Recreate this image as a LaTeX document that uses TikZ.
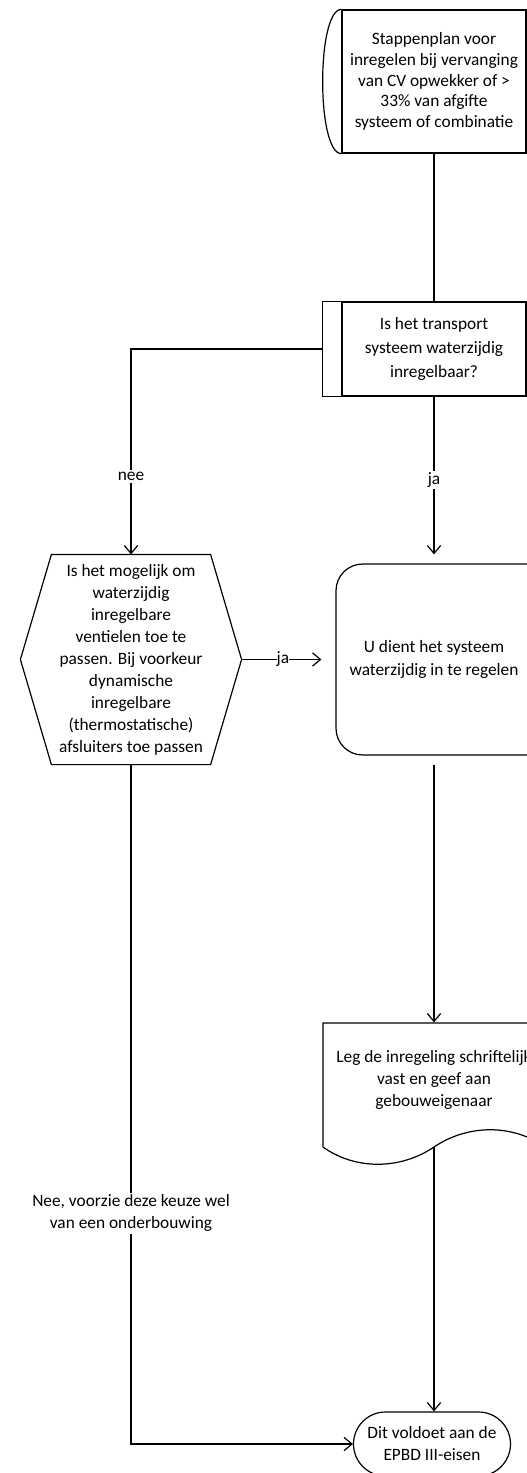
\documentclass[tikz,border=0pt]{standalone}
\usepackage{fontspec}
\setmainfont{Carlito}
\usetikzlibrary{positioning,arrows.meta,shapes.misc}

\begin{document}
\begin{tikzpicture}[
        x=0.75pt, y=-0.75pt,
        font=\fontsize{13}{16.5}\selectfont,
        line width=0.9pt,
        box/.style={draw, align=center, inner sep=0pt},
        plain/.style={align=center, inner sep=0pt},
        flow/.style={-{Straight Barb[length=6pt,width=10pt]}},
        lbl/.style={fill=white, align=center, inner sep=1.5pt}
    ]
    \clip (0,0) rectangle (527,1473);

    % --- Start: stappenplan ---
    \node[box, minimum width=138pt, minimum height=107.25pt, font=\fontsize{13}{15.5}\selectfont] (start) at (434,81.5)
        {Stappenplan voor\\inregelen bij vervanging\\van CV opwekker of >\\33\% van afgifte\\systeem of combinatie};
    \draw (start.north west) .. controls ([xshift=-18.75pt]start.north west) and ([xshift=-18.75pt]start.south west) .. (start.south west);

    % --- Predefined process: transport systeem ---
    \node[box, minimum width=138pt, minimum height=70.5pt, font=\fontsize{13}{18}\selectfont] (proc) at (434,349)
        {Is het transport\\systeem waterzijdig\\inregelbaar?};
    \draw (proc.north west) rectangle ([xshift=-14.25pt]proc.south west);

    % --- Hexagon: ventielen ---
    \node[plain, minimum width=118.5pt, minimum height=156.75pt] (hex) at (131,659.5)
        {Is het mogelijk om\\waterzijdig\\inregelbare\\ventielen toe te\\passen. Bij voorkeur\\dynamische\\inregelbare\\(thermostatische)\\afsluiters toe passen};
    \draw (hex.north west) -- (hex.north east) -- ([xshift=23.25pt]hex.east) -- (hex.south east)
        -- (hex.south west) -- ([xshift=-23.25pt]hex.west) -- cycle;

    % --- Rounded box: inregelen ---
    \node[box, rounded corners=20pt, minimum width=168pt, minimum height=143.25pt] (regel) at (448,659.5) {};
    \node[plain, font=\fontsize{13}{17.25}\selectfont] (regeltekst) at (434,659.5)
        {U dient het systeem\\waterzijdig in te regelen};

    % --- Document: vastleggen ---
    \node[plain, minimum width=166.5pt, minimum height=85.5pt] (doc) at (434,1080)
        {Leg de inregeling schriftelijk\\vast en geef aan\\gebouweigenaar};
    \draw (323,1147) -- (323,1023) -- (545,1023) -- (545,1147)
        .. controls (513,1124) and (468,1124) .. (434,1147)
        .. controls (400,1170) and (355,1170) .. (323,1147);
    \coordinate (docwave) at (434,1147);

    % --- End ---
    \node[box, rounded rectangle, minimum width=117.75pt, minimum height=48pt] (einde) at (432,1444)
        {Dit voldoet aan de\\EPBD III-eisen};

    % --- Connectors ---
    \draw (start.south) -- (proc.north);
    \draw[flow] ([xshift=-14.25pt]proc.west) -| node[lbl, pos=0.81] {nee} (hex.north);
    \draw[flow, shorten >=6.75pt] (proc.south) -- node[lbl] {ja} (proc.south |- regel.north);
    \draw[flow, shorten >=10.5pt] ([xshift=23.25pt]hex.east) -- node[lbl, inner sep=0pt, pos=0.44] {ja} (regel.west);
    \draw[flow, shorten <=6.75pt] (proc.south |- regel.south) -- (doc.north);
    \draw[flow] (docwave) -- (docwave |- einde.north);
    \draw[flow] (hex.south) |- node[lbl, pos=0.33] {Nee, voorzie deze keuze wel\\van een onderbouwing} (einde.west);

\end{tikzpicture}
\end{document}
